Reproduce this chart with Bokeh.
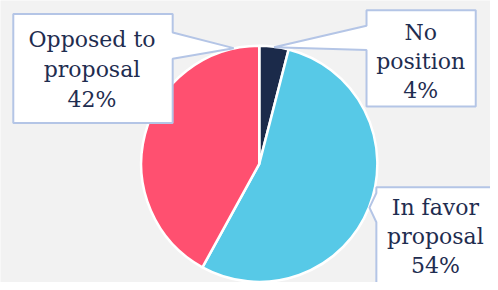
from bokeh.plotting import figure
from bokeh.models import Range1d, ColumnDataSource
from bokeh.embed import file_html
from bokeh.resources import INLINE
from bokeh.core.properties import value
import math

# ---- data ----
categories = ["No\nposition", "In favor\nproposal", "Opposed to\nproposal"]
shares = [4, 54, 42]
colors = ["#1b2a4a", "#57c9e7", "#ff5070"]

W, H = 490, 282          # figure size in pixels
RW, RH = 498, 290        # layout coordinate space
BG = "#f2f2f2"

def py(y):
    return RH - y

def px(x):
    return x

p = figure(width=W, height=H, output_backend="svg", toolbar_location=None,
           x_range=Range1d(0, RW), y_range=Range1d(0, RH), min_border=0)
p.axis.visible = False
p.grid.visible = False
p.outline_line_color = None
p.background_fill_color = BG
p.border_fill_color = BG

# pie
cx, cy, r = px(263), py(168), 120
total = sum(shares)
starts, ends = [], []
a = math.pi / 2
for s in shares:
    starts.append(a)
    a -= s / total * 2 * math.pi
    ends.append(a)
src = ColumnDataSource(dict(start=starts, end=ends, color=colors))
p.wedge(x=cx, y=cy, radius=r, start_angle="start", end_angle="end",
        direction="clock", fill_color="color", line_color="white",
        line_width=2.5, source=src)

# callout boxes (layout)
boxes = [
    [(372, 10), (483, 10), (483, 109), (372, 109), (372, 51), (278, 48), (372, 26)],
    [(382, 192), (520, 192), (520, 300), (382, 300), (382, 228), (375, 213), (382, 198)],
    [(13, 14), (175, 14), (175, 33), (237, 49), (175, 60), (175, 126), (13, 126)],
]
for b in boxes:
    p.patch([px(x) for x, _ in b], [py(y) for _, y in b], fill_color="white",
            line_color="#b4c5e6", line_width=2)

# label anchors: center x, first line y, line step
anchors = [(427, 33, 30), (442, 213, 30), (93, 40, 31)]
tx, ty, tt = [], [], []
for cat, sh, (ax, ay, st) in zip(categories, shares, anchors):
    lines = cat.split("\n") + [f"{sh}%"]
    for i, ln in enumerate(lines):
        tx.append(px(ax))
        ty.append(py(ay + i * st))
        tt.append(ln)
p.text(x=tx, y=ty, text=tt, text_align="center", text_baseline="middle",
       text_font=value("DejaVu Serif"), text_font_size="22px", text_color="#1f2d50")

open("out.html", "w").write(file_html(p, INLINE))
